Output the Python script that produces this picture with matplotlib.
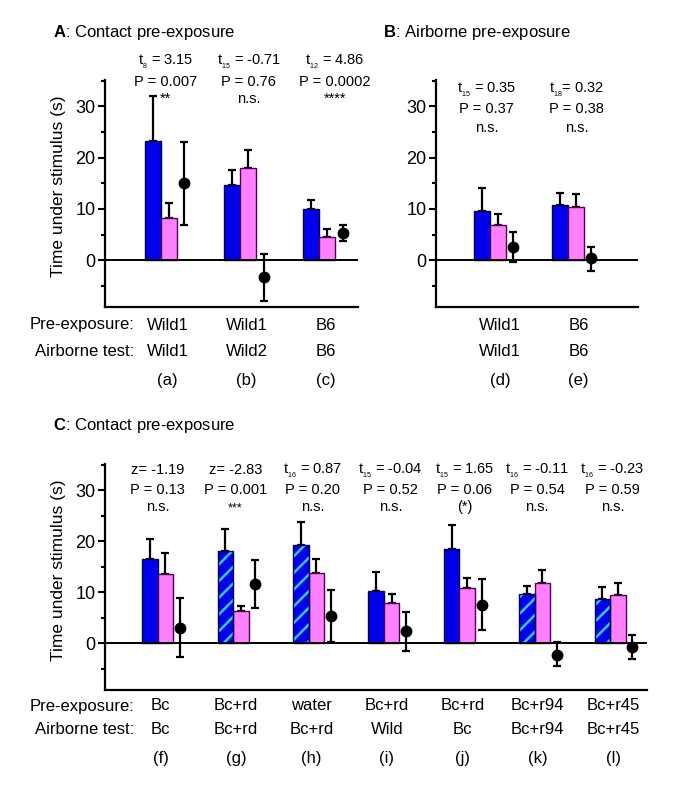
import matplotlib
matplotlib.use('Agg')
import matplotlib.pyplot as plt
import matplotlib.transforms as mtransforms
from matplotlib.ticker import MultipleLocator

plt.rcParams['font.family'] = ['Liberation Sans', 'DejaVu Sans']
plt.rcParams['mathtext.fontset'] = 'custom'
plt.rcParams['mathtext.rm'] = 'Liberation Sans'
plt.rcParams['mathtext.it'] = 'Liberation Sans:italic'
plt.rcParams['mathtext.bf'] = 'Liberation Sans:bold'
plt.rcParams['mathtext.default'] = 'regular'
plt.rcParams['hatch.linewidth'] = 1.8
plt.rcParams['hatch.color'] = '#33CCFF'

# ---------------- data ----------------
A_ids = ['(a)', '(b)', '(c)']
A_pre = ['Wild1', 'Wild1', 'B6']
A_air = ['Wild1', 'Wild2', 'B6']
A_blue = [23.3, 14.6, 10.0]
A_blue_err = [8.6, 2.9, 1.7]
A_pink = [8.3, 17.9, 4.6]
A_pink_err = [2.8, 3.6, 1.4]
A_diff = [15.0, -3.3, 5.3]
A_diff_lo = [8.1, 4.7, 1.5]
A_diff_hi = [8.1, 4.6, 1.6]
A_stat = ['t$_{{}_{8}}$ = 3.15', 't$_{{}_{15}}$ = -0.71', 't$_{{}_{12}}$ = 4.86']
A_p = ['P = 0.007', 'P = 0.76', 'P = 0.0002']
A_sig = ['**', 'n.s.', '****']

B_ids = ['(d)', '(e)']
B_pre = ['Wild1', 'B6']
B_air = ['Wild1', 'B6']
B_blue = [9.6, 10.7]
B_blue_err = [4.4, 2.4]
B_pink = [6.9, 10.4]
B_pink_err = [2.1, 2.5]
B_diff = [2.6, 0.4]
B_diff_lo = [2.9, 2.4]
B_diff_hi = [2.9, 2.1]
B_stat = ['t$_{{}_{15}}$ = 0.35', 't$_{{}_{18}}$= 0.32']
B_p = ['P = 0.37', 'P = 0.38']
B_sig = ['n.s.', 'n.s.']

C_ids = ['(f)', '(g)', '(h)', '(i)', '(j)', '(k)', '(l)']
C_pre = ['Bc', 'Bc+rd', 'water', 'Bc+rd', 'Bc+rd', 'Bc+r94', 'Bc+r45']
C_air = ['Bc', 'Bc+rd', 'Bc+rd', 'Wild', 'Bc', 'Bc+r94', 'Bc+r45']
C_blue = [16.6, 18.0, 19.2, 10.3, 18.4, 9.6, 8.7]
C_blue_err = [3.9, 4.3, 4.5, 3.7, 4.7, 1.6, 2.3]
C_hatched = [False, True, True, False, False, True, True]
C_pink = [13.6, 6.4, 13.8, 8.0, 10.9, 11.8, 9.4]
C_pink_err = [4.0, 1.0, 2.7, 1.7, 1.9, 2.6, 2.5]
C_diff = [3.1, 11.6, 5.4, 2.4, 7.6, -2.2, -0.7]
C_diff_lo = [5.8, 4.7, 5.2, 3.8, 5.0, 2.3, 2.4]
C_diff_hi = [5.8, 4.8, 5.1, 3.7, 5.0, 2.4, 2.4]
C_stat = ['z= -1.19', 'z= -2.83', 't$_{{}_{16}}$ = 0.87', 't$_{{}_{15}}$ = -0.04',
          't$_{{}_{15}}$ = 1.65', 't$_{{}_{16}}$ = -0.11', 't$_{{}_{16}}$ = -0.23']
C_p = ['P = 0.13', 'P = 0.001', 'P = 0.20', 'P = 0.52', 'P = 0.06',
       'P = 0.54', 'P = 0.59']
C_sig = ['n.s.', '***', 'n.s.', 'n.s.', '(*)', 'n.s.', 'n.s.']

# ---------------- styles ----------------
BLUE = '#0000EE'
BLUE_EDGE = '#000040'
PINK = '#FF80FF'
PINK_EDGE = '#500050'
CYAN = '#33CCFF'
W = 0.205
DOT_DX = 0.295
FW, FH = 685, 792

fig = plt.figure(figsize=(6.85, 7.92), dpi=100)


def px_axes(x0, x1, ytop, ybot):
    return fig.add_axes([x0 / FW, 1 - ybot / FH, (x1 - x0) / FW, (ybot - ytop) / FH])


def draw_panel(ax, xlim, blue, blue_err, pink, pink_err, diff, lo, hi,
               stat, pval, sig, ann_dx, ann_y, ids, pre, air, lab_dx,
               rows_px, hatched=None):
    n = len(blue)
    xs = list(range(1, n + 1))
    if hatched is None:
        hatched = [False] * n
    tr = mtransforms.blended_transform_factory(ax.transData, fig.transFigure)
    for i, x in enumerate(xs):
        xb = x - W / 2
        xp = x + W / 2
        if hatched[i]:
            ax.bar(xb, blue[i], W, color=BLUE, hatch='//', edgecolor=CYAN,
                   linewidth=0, zorder=2)
            ax.bar(xb, blue[i], W, fill=False, edgecolor=BLUE_EDGE,
                   linewidth=1.0, zorder=3)
        else:
            ax.bar(xb, blue[i], W, color=BLUE, edgecolor=BLUE_EDGE,
                   linewidth=1.0, zorder=2)
        ax.bar(xp, pink[i], W, color=PINK, edgecolor=PINK_EDGE,
               linewidth=1.0, zorder=2)
        ax.errorbar([xb], [blue[i]], yerr=[[0], [blue_err[i]]], fmt='none',
                    ecolor='black', elinewidth=1.6, capsize=3, capthick=1.6,
                    zorder=1)
        ax.errorbar([xp], [pink[i]], yerr=[[0], [pink_err[i]]], fmt='none',
                    ecolor='black', elinewidth=1.6, capsize=3, capthick=1.6,
                    zorder=1)
        ax.errorbar([x + DOT_DX], [diff[i]], yerr=[[lo[i]], [hi[i]]], fmt='o',
                    color='black', ms=7.5, elinewidth=1.6, capsize=3,
                    capthick=1.6, zorder=5)
        xa = x + ann_dx[i]
        ax.text(xa, ann_y[0], stat[i], ha='center', va='baseline',
                fontsize=10.5, clip_on=False)
        ax.text(xa, ann_y[1], pval[i], ha='center', va='baseline',
                fontsize=10.5, clip_on=False)
        ax.text(xa, ann_y[2], sig[i], ha='center', va='baseline',
                fontsize=10.5 if sig[i] != '***' else 9, clip_on=False)
        for txt, ypx in zip([pre[i], air[i], ids[i]], rows_px):
            ax.text(x + lab_dx, 1 - ypx / FH, txt, transform=tr, ha='center',
                    va='center', fontsize=12, clip_on=False)
    ax.axhline(0, color='black', lw=1.4, zorder=4)
    ax.set_xlim(*xlim)
    ax.set_ylim(-9.1, 35.1)
    ax.set_xticks([])
    ax.yaxis.set_major_locator(MultipleLocator(10))
    ax.yaxis.set_minor_locator(MultipleLocator(5))
    ax.tick_params(axis='y', which='major', length=5, width=1.5,
                   labelsize=13, pad=2)
    ax.tick_params(axis='y', which='minor', length=3, width=1.5)
    for s in ['top', 'right']:
        ax.spines[s].set_visible(False)
    for s in ['left', 'bottom']:
        ax.spines[s].set_linewidth(1.6)


axA = px_axes(105, 358, 80, 307)
draw_panel(axA, (0.29, 3.49), A_blue, A_blue_err, A_pink, A_pink_err,
           A_diff, A_diff_lo, A_diff_hi, A_stat, A_p, A_sig,
           [0.06, 0.11, 0.2], (38.1, 34.0, 30.6), A_ids, A_pre, A_air, 0.08,
           (325, 352, 380))

axB = px_axes(436, 638, 80, 307)
draw_panel(axB, (0.31, 2.89), B_blue, B_blue_err, B_pink, B_pink_err,
           B_diff, B_diff_lo, B_diff_hi, B_stat, B_p, B_sig,
           [-0.04, 0.11], (32.5, 28.6, 25.0), B_ids, B_pre, B_air, 0.13,
           (325, 352, 380))

axC = px_axes(105, 647, 464, 690)
draw_panel(axC, (0.30, 7.49), C_blue, C_blue_err, C_pink, C_pink_err,
           C_diff, C_diff_lo, C_diff_hi, C_stat, C_p, C_sig,
           [0.0, 0.03, 0.05, 0.09, 0.07, 0.03, 0.03], (33.2, 29.3, 25.9),
           C_ids, C_pre, C_air, 0.04, (706, 730, 758), hatched=C_hatched)

# titles
fig.text(53 / FW, 1 - 33 / FH, r'$\mathbf{A}$: Contact pre-exposure',
         fontsize=12, ha='left', va='center')
fig.text(383 / FW, 1 - 33 / FH, r'$\mathbf{B}$: Airborne pre-exposure',
         fontsize=12, ha='left', va='center')
fig.text(53 / FW, 1 - 425 / FH, r'$\mathbf{C}$: Contact pre-exposure',
         fontsize=12, ha='left', va='center')

# y labels
fig.text(59 / FW, 1 - 186 / FH, 'Time under stimulus (s)', rotation=90,
         fontsize=12.5, ha='center', va='center')
fig.text(59 / FW, 1 - 570 / FH, 'Time under stimulus (s)', rotation=90,
         fontsize=12.5, ha='center', va='center')

# row headers
for ypx, txt in [(325, 'Pre-exposure:'), (352, 'Airborne test:'),
                 (706, 'Pre-exposure:'), (730, 'Airborne test:')]:
    fig.text(134 / FW, 1 - ypx / FH, txt, fontsize=12, ha='right', va='center')

fig.savefig('out.png', dpi=100)
